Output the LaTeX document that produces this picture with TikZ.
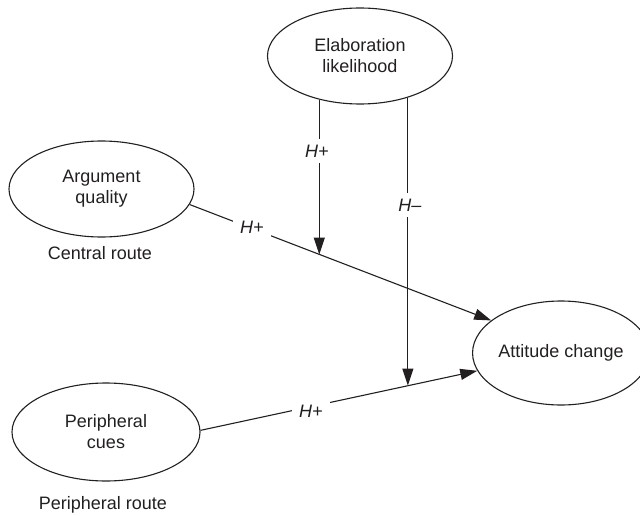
\documentclass[tikz,border=0pt]{standalone}
\usepackage{fontspec}
\setmainfont{Liberation Sans}
\usetikzlibrary{shapes.geometric,arrows.meta}
\definecolor{ink}{HTML}{231F20}
\begin{document}
\begin{tikzpicture}[x=1pt,y=-1pt,
  every node/.style={text=ink},
  oval/.style={draw=ink, ellipse, line width=1.1pt, inner sep=0pt, align=center, font=\fontsize{18}{21}\selectfont},
  conn/.style={draw=ink, line width=1.1pt},
  arr/.style={conn, -{Triangle[length=17pt,width=11pt]}},
  lbl/.style={fill=white, inner xsep=7pt, inner ysep=6pt, font=\fontsize{18}{21}\selectfont\itshape},
  txt/.style={font=\fontsize{18}{21}\selectfont}]
\useasboundingbox (0,0) rectangle (640,516);
% ovals
\node[oval, minimum width=185pt, minimum height=96pt] (elab) at (360,56) {Elaboration\\likelihood};
\node[oval, minimum width=185pt, minimum height=96pt] (arg) at (101.5,189) {Argument\\quality};
\node[oval, minimum width=188pt, minimum height=98pt] (peri) at (106,432) {Peripheral\\cues};
\node[oval, minimum width=154pt, minimum height=104pt] (att) at (561,353) {Attitude change};
% route captions
\node[txt] (central) at (100,253) {Central route};
\node[txt] (periroute) at (103,505) {Peripheral route};
% moderation points
\coordinate (m1) at (319,254.5);
\coordinate (m2) at (407,385.5);
% connectors
\draw[arr] (arg.-10.2) -- (att.155.6);
\draw[arr] (peri.1) -- (att.-168);
\draw[arr] (elab.-133.6) -- (elab.-133.6 |- m1);
\draw[arr] (elab.-41.3) -- (elab.-41.3 |- m2);
% labels
\node[lbl] (h1) at (252,227) {H+};
\node[lbl] (h2) at (317,151) {H+};
\node[lbl] (h3) at (410,205) {H–};
\node[lbl] (h4) at (311,411) {H+};
\end{tikzpicture}
\end{document}
